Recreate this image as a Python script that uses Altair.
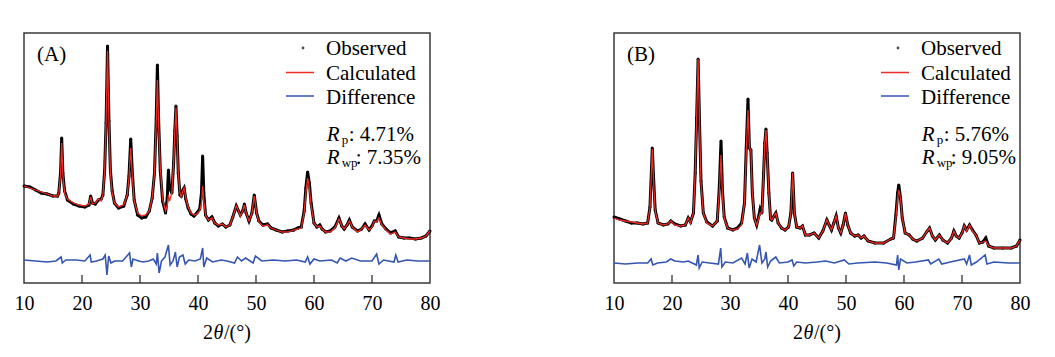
import altair as alt
import pandas as pd

# ---------------- Panel A data (2θ in degrees, intensity in arbitrary units) ----------------
a_tt = [10, 11, 12, 13, 14, 15, 15.8, 16.0, 16.3, 16.5,
        16.7, 17.0, 17.5, 18.5, 19.5, 20.5, 21.2, 21.5, 21.8, 22.3,
        22.8, 23.3, 23.6, 23.9, 24.15, 24.4, 24.65, 24.9, 25.2, 25.6,
        26.3, 27.2, 27.8, 28.1, 28.4, 28.7, 29.0, 29.6, 30.3, 31.0,
        31.6, 32.1, 32.5, 32.8, 33.0, 33.2, 33.5, 33.9, 34.4, 34.7,
        34.9, 35.1, 35.5, 35.8, 36.0, 36.2, 36.4, 36.6, 36.9, 37.1,
        37.4, 37.6, 37.9, 38.3, 38.8, 39.3, 39.8, 40.3, 40.6, 40.8,
        41.0, 41.3, 41.8, 42.4, 42.9, 43.5, 44.2, 44.8, 45.5, 46.0,
        46.6, 47.0, 47.3, 47.7, 48.0, 48.3, 48.8, 49.3, 49.7, 50.1,
        50.5, 51.2, 52.0, 52.6, 53.5, 54.5, 55.5, 56.5, 57.2, 57.8,
        58.3, 58.6, 58.9, 59.2, 59.5, 60.0, 60.5, 61.0, 61.4, 62.0,
        62.8, 63.6, 64.3, 64.8, 65.2, 65.7, 66.1, 66.6, 67.5, 68.2,
        68.8, 69.5, 70.0, 70.4, 70.8, 71.2, 71.7, 72.4, 73.2, 74.0,
        74.6, 75.5, 76.5, 77.5, 78.5, 79.3, 80.0]
a_calc = [97, 95, 93, 91, 89, 87, 87, 90, 108, 140,
          108, 90, 84, 80, 78, 77, 79, 86, 79, 80,
          84, 82, 88, 110, 160, 232, 160, 110, 90, 80,
          76, 78, 88, 105, 135, 105, 82, 70, 67, 68,
          72, 85, 110, 160, 203, 160, 115, 84, 72, 78,
          88, 82, 90, 120, 150, 175, 145, 110, 90, 86,
          92, 95, 85, 76, 70, 68, 69, 72, 80, 97,
          82, 68, 63, 65, 60, 58, 59, 56, 58, 66,
          77, 72, 67, 72, 78, 70, 62, 70, 87, 70,
          61, 57, 58, 55, 53, 51, 51, 53, 54, 55,
          70, 90, 105, 95, 78, 60, 56, 57, 54, 51,
          51, 55, 64, 57, 54, 58, 62, 56, 51, 54,
          58, 53, 56, 62, 61, 65, 58, 53, 49, 51,
          46, 45, 44, 44, 45, 47, 52]
a_obs = [97, 96, 93, 90, 89, 87, 87, 90, 110, 145,
         110, 92, 83, 79, 77, 76, 78, 87, 80, 79,
         83, 84, 88, 112, 160, 237, 162, 112, 92, 80,
         75, 77, 88, 107, 144, 108, 83, 68, 65, 66,
         72, 85, 110, 165, 218, 165, 112, 82, 70, 85,
         113, 95, 90, 120, 152, 177, 147, 110, 88, 87,
         93, 95, 84, 75, 69, 67, 70, 74, 90, 127,
         90, 68, 63, 66, 60, 57, 59, 56, 58, 66,
         77, 72, 68, 72, 79, 70, 62, 70, 88, 70,
         62, 58, 59, 55, 53, 51, 52, 53, 55, 56,
         72, 95, 111, 100, 80, 60, 56, 58, 54, 51,
         52, 56, 65, 57, 54, 58, 63, 56, 52, 54,
         59, 53, 57, 62, 62, 68, 59, 54, 50, 52,
         46, 45, 45, 44, 45, 47, 52]
a_diff_tt = [10, 12, 14, 15.5, 16.4, 16.6, 17.2, 19, 20.5, 21.4,
             21.6, 22.5, 23.6, 24.0, 24.3, 24.6, 25.0, 25.6, 27, 28.2,
             28.5, 28.8, 29.8, 30.5, 31.5, 32.3, 32.8, 33.0, 33.3, 33.7,
             34.3, 34.9, 35.2, 35.7, 36.1, 36.4, 36.8, 37.4, 37.8, 38.4,
             39.5, 40.4, 40.8, 41.0, 41.5, 42.5, 44, 45, 46.3, 46.8,
             47.5, 48.2, 49.5, 49.9, 51, 53, 55, 57, 58.5, 58.9,
             59.3, 60, 61, 63, 64, 64.5, 65.5, 66.5, 68, 70,
             70.8, 71.2, 72, 73.8, 74.1, 74.5, 76, 78, 80]
a_diff = [23, 22, 21, 22, 26, 20, 23, 23, 22, 28,
          21, 22, 24, 28, 8, 27, 20, 22, 22, 30,
          16, 24, 22, 21, 22, 24, 19, 30, 10, 22,
          26, 38, 18, 22, 31, 16, 26, 28, 19, 23,
          22, 24, 35, 16, 25, 21, 23, 22, 20, 26,
          22, 25, 20, 27, 22, 23, 22, 23, 21, 26,
          19, 24, 22, 23, 20, 25, 22, 25, 22, 22,
          29, 19, 23, 21, 28, 21, 23, 22, 22]

# ---------------- Panel B data ----------------
b_tt = [10, 11, 12, 13, 14, 15, 15.8, 16.2, 16.45, 16.6,
        16.8, 17.1, 17.6, 18.5, 19.3, 19.8, 20.5, 21.5, 22.3, 22.8,
        23.2, 23.7, 24.0, 24.25, 24.5, 24.75, 25.0, 25.4, 26.0, 27.0,
        27.8, 28.15, 28.45, 28.7, 29.0, 29.6, 30.5, 31.3, 32.0, 32.5,
        32.8, 33.1, 33.35, 33.6, 33.85, 34.2, 34.6, 35.0, 35.2, 35.5,
        35.8, 36.0, 36.2, 36.4, 36.7, 37.0, 37.2, 37.6, 37.9, 38.3,
        38.9, 39.5, 40.1, 40.5, 40.8, 41.1, 41.5, 42.1, 42.5, 43.0,
        43.7, 44.5, 45.3, 46.0, 46.7, 47.1, 47.5, 47.9, 48.3, 48.7,
        49.1, 49.5, 49.9, 50.3, 50.8, 51.5, 52.1, 52.6, 53.1, 53.8,
        55.0, 56.5, 57.7, 58.2, 58.6, 58.9, 59.1, 59.4, 59.7, 60.2,
        60.9, 61.5, 62.2, 63.2, 64.0, 64.4, 64.9, 65.4, 66.1, 66.7,
        67.5, 68.2, 68.6, 69.0, 69.5, 70.0, 70.4, 70.8, 71.3, 71.8,
        72.4, 73.0, 73.6, 74.1, 74.6, 75.5, 77.0, 78.5, 79.4, 80.0]
b_calc = [65, 63, 62, 61, 60, 59, 60, 75, 110, 134,
          105, 72, 60, 58, 59, 62, 58, 57, 58, 65,
          60, 70, 110, 165, 224, 160, 100, 70, 60, 57,
          62, 90, 128, 88, 65, 55, 53, 54, 58, 80,
          130, 173, 135, 133, 90, 65, 58, 66, 70, 70,
          110, 140, 153, 130, 90, 64, 63, 67, 70, 60,
          55, 53, 56, 70, 110, 70, 56, 55, 57, 48,
          48, 50, 45, 52, 63, 58, 53, 60, 67, 55,
          50, 58, 70, 58, 50, 47, 48, 45, 47, 42,
          40, 40, 44, 45, 65, 85, 93, 85, 65, 50,
          48, 44, 42, 45, 52, 55, 47, 43, 48, 43,
          40, 45, 52, 47, 45, 50, 57, 52, 58, 52,
          48, 40, 41, 42, 37, 35, 35, 35, 37, 43]
b_obs = [66, 64, 62, 60, 60, 59, 60, 76, 112, 135,
         108, 73, 60, 58, 59, 62, 59, 57, 58, 65,
         61, 70, 110, 165, 224, 160, 102, 70, 61, 57,
         62, 95, 142, 92, 66, 55, 53, 55, 60, 80,
         135, 184, 135, 133, 90, 65, 58, 68, 74, 70,
         110, 140, 154, 130, 90, 64, 63, 67, 70, 60,
         55, 53, 56, 70, 110, 70, 56, 55, 57, 48,
         48, 50, 45, 52, 63, 58, 53, 60, 67, 55,
         50, 58, 70, 58, 50, 47, 48, 45, 47, 42,
         40, 40, 44, 45, 68, 90, 98, 85, 65, 50,
         48, 44, 42, 45, 52, 55, 47, 43, 48, 43,
         40, 45, 52, 47, 45, 50, 57, 53, 58, 53,
         48, 40, 41, 45, 37, 35, 35, 35, 37, 43]
b_diff_tt = [10, 12, 14, 15.8, 16.4, 16.7, 17.5, 19, 19.8, 20.5,
             22, 22.8, 23.5, 24.2, 24.5, 24.7, 25.2, 26.5, 28.0, 28.4,
             28.6, 29.2, 30.5, 32.0, 32.6, 33.0, 33.3, 33.8, 34.5, 35.1,
             35.5, 36.0, 36.2, 36.5, 37.0, 37.9, 38.5, 40.0, 40.7, 41.0,
             41.5, 43, 45, 46.5, 48.0, 49.7, 50.5, 52, 55, 57,
             58.7, 58.9, 59.1, 59.4, 60.5, 62, 64.2, 64.6, 66, 66.5,
             68, 70.4, 70.8, 71.3, 71.6, 72.5, 74.0, 74.3, 75.5, 78, 80]
b_diff = [20, 19, 20, 20, 24, 18, 20, 21, 24, 22,
          21, 22, 20, 18, 28, 15, 21, 20, 19, 35,
          16, 21, 20, 25, 19, 30, 15, 24, 21, 38,
          20, 24, 31, 16, 22, 26, 20, 21, 23, 17,
          21, 20, 21, 22, 20, 23, 19, 20, 21, 20,
          18, 28, 13, 24, 20, 21, 23, 19, 24, 19,
          21, 24, 19, 28, 18, 21, 28, 19, 21, 20, 20]

tick_values = [20, 30, 40, 50, 60, 70]
label_values = [10, 20, 30, 40, 50, 60, 70, 80]
legend_labels = ["Observed", "Calculated", "Difference"]

W, H = 406, 250
FONT = "Liberation Serif"
RED = "#ee2a24"
BLUE = "#3556b0"
XS = alt.Scale(domain=[10, 80], nice=False, zero=False)
YS = alt.Scale(domain=[0, 250], nice=False, zero=False)
ONE = pd.DataFrame({"a": [0]})

XAXIS = alt.Axis(values=label_values, ticks=False, domain=False, grid=False,
                 labelFont=FONT, labelFontSize=20, labelColor="black", labelPadding=10.5,
                 labelFlush=False, labelOverlap=False, title="")


def X():
    return alt.X("tt:Q", scale=XS, axis=XAXIS)


def txt(s, x, y, size=21, style="normal"):
    return alt.Chart(ONE).mark_text(
        text=s, font=FONT, fontSize=size, fontStyle=style, align="left",
        baseline="alphabetic", color="black"
    ).encode(x=alt.value(x), y=alt.value(y))


def panel(tt, calc, obs, dtt, diff, label, rp, rwp, lx):
    df = pd.DataFrame({"tt": tt, "calc": calc, "obs": obs})
    dd = pd.DataFrame({"tt": dtt, "diff": diff})
    base = alt.Chart(df)
    obs_line = base.mark_line(color="black", strokeWidth=3.0).encode(
        x=X(), y=alt.Y("obs:Q", scale=YS, axis=None))
    obs_pts = base.mark_point(color="black", filled=True, size=9, opacity=1).encode(
        x=X(), y=alt.Y("obs:Q", scale=YS, axis=None))
    calc_line = base.mark_line(color=RED, strokeWidth=1.3).encode(
        x=X(), y=alt.Y("calc:Q", scale=YS, axis=None))
    diff_line = alt.Chart(dd).mark_line(color=BLUE, strokeWidth=1.6).encode(
        x=X(), y=alt.Y("diff:Q", scale=YS, axis=None))
    ticks = alt.Chart(pd.DataFrame({"tt": tick_values})).mark_rule(
        color="#333333", strokeWidth=1.3).encode(
        x=X(), y=alt.value(H), y2=alt.value(H - 8))

    # legend
    leg_dot = alt.Chart(ONE).mark_point(color="black", filled=True, size=8).encode(
        x=alt.value(lx - 23), y=alt.value(15))
    leg_red = alt.Chart(ONE).mark_rule(color=RED, strokeWidth=1.5).encode(
        x=alt.value(lx - 40), x2=alt.value(lx - 12), y=alt.value(39.5))
    leg_blue = alt.Chart(ONE).mark_rule(color=BLUE, strokeWidth=1.5).encode(
        x=alt.value(lx - 40), x2=alt.value(lx - 12), y=alt.value(63))
    leg_txt = [txt(legend_labels[0], lx, 22), txt(legend_labels[1], lx, 47),
               txt(legend_labels[2], lx, 70.5)]

    rtx = lx + 0.7
    r_txt = [
        txt("R", rtx, 108, style="italic"), txt("p", rtx + 15, 111, size=13),
        txt(": " + rp, rtx + 22, 108),
        txt("R", rtx, 131, style="italic"), txt("wp", rtx + 15, 134, size=13),
        txt(": " + rwp, rtx + 29, 131),
    ]
    lab = txt(label, 13, 28)

    # x-axis title 2θ/(°) with italic θ
    title = [txt("2", 179, H + 56, size=20), txt("θ", 189.5, H + 56, size=20, style="italic"),
             txt("/(°)", 200, H + 56, size=20)]

    return alt.layer(obs_line, obs_pts, calc_line, diff_line, ticks,
                     leg_dot, leg_red, leg_blue, *leg_txt, *r_txt, lab, *title
                     ).properties(width=W, height=H)


pa = panel(a_tt, a_calc, a_obs, a_diff_tt, a_diff, "(A)", "4.71%", "7.35%", 302)
pb = panel(b_tt, b_calc, b_obs, b_diff_tt, b_diff, "(B)", "5.76%", "9.05%", 307)

chart = alt.hconcat(pa, pb, spacing=162).properties(
    padding={"left": 13, "top": 32, "right": 5, "bottom": 5},
    background="white",
).configure_view(stroke="#3a3a3a", strokeWidth=1.5).configure_axis(
    labelFont=FONT, titleFont=FONT
).configure_text(font=FONT)

chart.save("out.html", embed_options={"renderer": "svg", "actions": False})
